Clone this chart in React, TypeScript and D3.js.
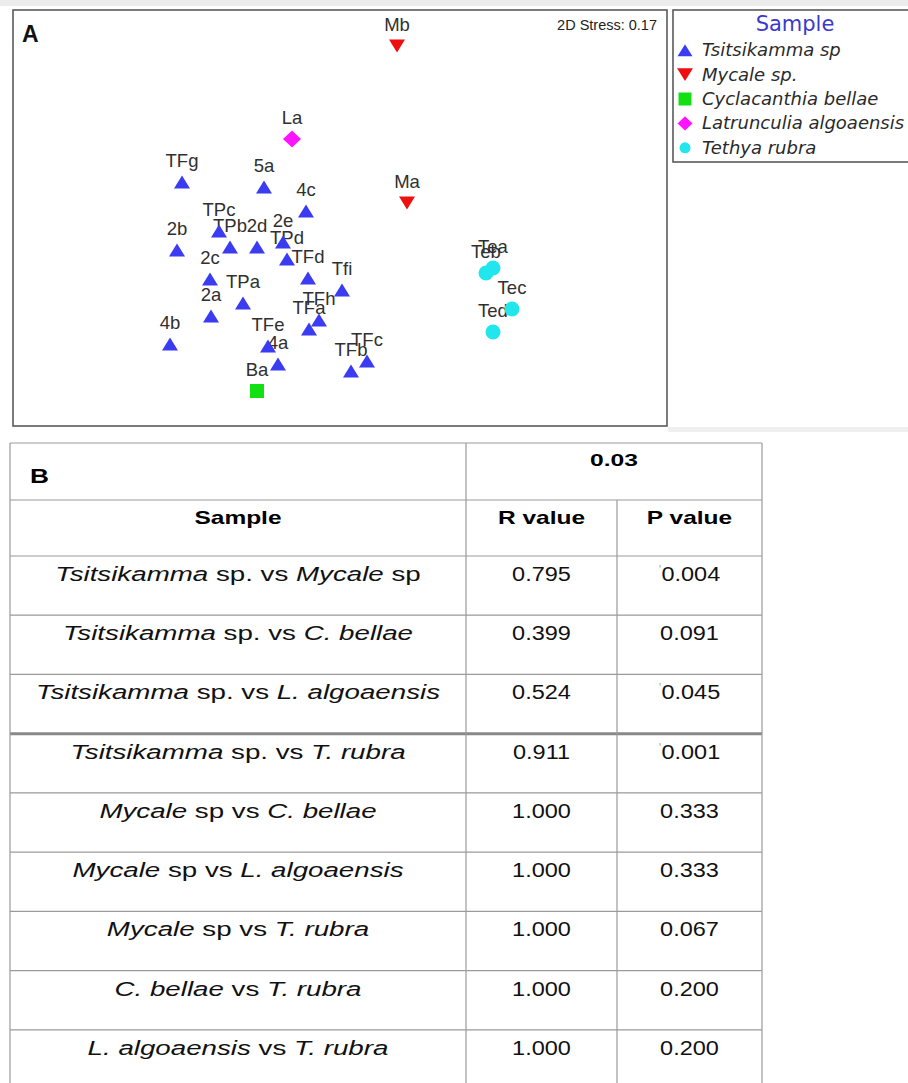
import React from "react";
import * as d3 from "d3";

const W = 908;
const H = 1083;

// ---------- Panel A data (NMDS ordination) ----------
const GROUPS = ["Tsitsikamma sp", "Mycale sp.", "Cyclacanthia bellae", "Latrunculia algoaensis", "Tethya rubra"];
const GROUP_COLORS = ["#3b3bf2", "#ee0f0f", "#12e012", "#ff14ff", "#22e6ee"];
const GROUP_SHAPES = ["triUp", "triDown", "square", "diamond", "circle"];

const sampleLabels = [
  "TFg", "5a", "4c", "TPc", "TPb", "2d", "2e", "TPd", "TFd", "Tfi", "2b", "2c", "TPa", "2a", "4b",
  "TFe", "4a", "TFh", "TFa", "TFc", "TFb",
  "Mb", "Ma", "Ba", "La", "Teb", "Tea", "Tec", "Ted",
];
const sampleGroup = [
  0, 0, 0, 0, 0, 0, 0, 0, 0, 0, 0, 0, 0, 0, 0,
  0, 0, 0, 0, 0, 0,
  1, 1, 2, 3, 4, 4, 4, 4,
];
const nmds1 = [
  -0.755, -0.345, -0.135, -0.57, -0.515, -0.38, -0.25, -0.23, -0.125, 0.045, -0.78, -0.615, -0.45, -0.61, -0.815,
  -0.325, -0.275, -0.07, -0.12, 0.17, 0.09,
  0.32, 0.37, -0.38, -0.205, 0.765, 0.8, 0.895, 0.8,
];
const nmds2 = [
  0.18, 0.155, 0.035, -0.065, -0.145, -0.145, -0.12, -0.205, -0.3, -0.36, -0.16, -0.305, -0.425, -0.49, -0.63,
  -0.64, -0.73, -0.51, -0.555, -0.715, -0.765,
  0.86, 0.075, -0.865, 0.395, -0.275, -0.25, -0.455, -0.57,
];
const STRESS = "2D Stress: 0.17";

// ---------- Panel B data (ANOSIM table) ----------
const TABLE_LEVEL = "0.03";
const comparisons: [string, boolean][][] = [
  [["Tsitsikamma", true], [" sp. vs ", false], ["Mycale", true], [" sp", false]],
  [["Tsitsikamma", true], [" sp. vs ", false], ["C. bellae", true]],
  [["Tsitsikamma", true], [" sp. vs ", false], ["L. algoaensis", true]],
  [["Tsitsikamma", true], [" sp. vs ", false], ["T. rubra", true]],
  [["Mycale", true], [" sp vs ", false], ["C. bellae", true]],
  [["Mycale", true], [" sp vs ", false], ["L. algoaensis", true]],
  [["Mycale", true], [" sp vs ", false], ["T. rubra", true]],
  [["C. bellae", true], [" vs ", false], ["T. rubra", true]],
  [["L. algoaensis", true], [" vs ", false], ["T. rubra", true]],
];
const rValues = ["0.795", "0.399", "0.524", "0.911", "1.000", "1.000", "1.000", "1.000", "1.000"];
const pValues = ["0.004", "0.091", "0.045", "0.001", "0.333", "0.333", "0.067", "0.200", "0.200"];
const pSignificant = [true, false, true, true, false, false, false, false, false];

// ---------- custom symbols (bbox-centred) ----------
const symTriUp = {
  draw(ctx: any, size: number) {
    const w = Math.sqrt(size);
    const h = w * 0.8;
    ctx.moveTo(0, -h / 2);
    ctx.lineTo(w / 2, h / 2);
    ctx.lineTo(-w / 2, h / 2);
    ctx.closePath();
  },
};
const symTriDown = {
  draw(ctx: any, size: number) {
    const w = Math.sqrt(size);
    const h = w * 0.8;
    ctx.moveTo(-w / 2, -h / 2);
    ctx.lineTo(w / 2, -h / 2);
    ctx.lineTo(0, h / 2);
    ctx.closePath();
  },
};
const symSquare = {
  draw(ctx: any, size: number) {
    const w = Math.sqrt(size);
    ctx.rect(-w / 2, -w / 2, w, w);
  },
};
const symDiamond = {
  draw(ctx: any, size: number) {
    const w = Math.sqrt(size);
    const h = w * 0.95;
    ctx.moveTo(0, -h / 2);
    ctx.lineTo(w / 2, 0);
    ctx.lineTo(0, h / 2);
    ctx.lineTo(-w / 2, 0);
    ctx.closePath();
  },
};
const symCircle = {
  draw(ctx: any, size: number) {
    const r = Math.sqrt(size) / 2;
    ctx.moveTo(r, 0);
    ctx.arc(0, 0, r, 0, Math.PI * 2);
  },
};
const SHAPES: Record<string, any> = {
  triUp: symTriUp,
  triDown: symTriDown,
  square: symSquare,
  diamond: symDiamond,
  circle: symCircle,
};
const PLOT_SIZE: Record<string, number> = { triUp: 16, triDown: 16, square: 14, diamond: 18, circle: 15 };
const LEGEND_SIZE: Record<string, number> = { triUp: 15, triDown: 16, square: 13, diamond: 15, circle: 11 };

const symbolPath = (shape: string, px: number) =>
  d3.symbol().type(SHAPES[shape]).size(px * px)() as string;

export default function App() {
  // plot frame
  const plot = { left: 13, top: 10, right: 667, bottom: 426 };
  const x = d3.scaleLinear().domain([-1.6, 1.67]).range([plot.left, plot.right]);
  const y = d3.scaleLinear().domain([-1.04, 1.04]).range([plot.bottom, plot.top]);

  const pts = sampleLabels.map((lab, i) => ({
    lab,
    g: sampleGroup[i],
    px: x(nmds1[i]),
    py: y(nmds2[i]),
  }));

  // legend
  const legend = { left: 673, top: 10, right: 916, bottom: 162 };
  const legendY = d3.scaleBand<number>().domain(d3.range(GROUPS.length)).range([38, 160]);

  // table
  const tab = { left: 10, c1: 466, c2: 617, right: 762, top: 443, h1: 500, h2: 556, bottom: 1089 };
  const rowScale = d3.scaleBand<number>().domain(d3.range(comparisons.length)).range([tab.h2, tab.bottom]);
  const c0 = (tab.left + tab.c1) / 2;
  const cR = (tab.c1 + tab.c2) / 2;
  const cP = (tab.c2 + tab.right) / 2;
  const font = "'Liberation Sans', Arial, sans-serif";
  const lineCol = "#9a9a9a";

  const stretched = (cx: number, cy: number, sx: number, child: React.ReactNode, key?: any) => (
    <g key={key} transform={`translate(${cx},${cy}) scale(${sx},1)`}>{child}</g>
  );

  return (
    <svg
      width={W}
      height={H}
      style={{ position: "absolute", left: 0, top: 0, display: "block", background: "#fff" }}
      fontFamily={font}
    >
      <rect x={0} y={0} width={W} height={H} fill="#fff" />
      <rect x={0} y={0} width={W} height={6} fill="#ececec" />
      <rect x={668} y={427} width={W - 668} height={5} fill="#efefef" />

      {/* ---------- Panel A ---------- */}
      <rect
        x={plot.left}
        y={plot.top}
        width={plot.right - plot.left}
        height={plot.bottom - plot.top}
        fill="#fff"
        stroke="#5a5a5a"
        strokeWidth={1.6}
      />
      <text x={22} y={42} fontSize={23} fontWeight="bold" fill="#111">A</text>
      <text x={657} y={30} fontSize={14.5} textAnchor="end" fill="#222">{STRESS}</text>

      <g fontSize={18.5} fill="#303030" textAnchor="middle">
        {pts.map((p, i) => (
          <text key={"l" + i} x={p.px} y={p.py - 15}>{p.lab}</text>
        ))}
      </g>
      <g>
        {pts.map((p, i) => {
          const shape = GROUP_SHAPES[p.g];
          return (
            <path
              key={"m" + i}
              d={symbolPath(shape, PLOT_SIZE[shape])}
              transform={`translate(${p.px},${p.py})`}
              fill={GROUP_COLORS[p.g]}
            />
          );
        })}
      </g>

      {/* legend */}
      <rect
        x={legend.left}
        y={legend.top}
        width={legend.right - legend.left}
        height={legend.bottom - legend.top}
        fill="#fff"
        stroke="#5a5a5a"
        strokeWidth={1.6}
      />
      <text x={795} y={31} fontSize={21} textAnchor="middle" fill="#3a3acc" fontFamily="'DejaVu Sans', sans-serif">
        Sample
      </text>
      {GROUPS.map((g, i) => {
        const cy = (legendY(i) as number) + legendY.bandwidth() / 2;
        const shape = GROUP_SHAPES[i];
        return (
          <g key={"lg" + i}>
            <path
              d={symbolPath(shape, LEGEND_SIZE[shape])}
              transform={`translate(685,${cy})`}
              fill={GROUP_COLORS[i]}
            />
            <text
              x={702}
              y={cy + 6}
              fontSize={18}
              fontStyle="italic"
              fill="#2a2a2a"
              fontFamily="'DejaVu Sans', sans-serif"
            >
              {g}
            </text>
          </g>
        );
      })}

      {/* ---------- Panel B ---------- */}
      <g stroke={lineCol} strokeWidth={1.2} fill="none">
        <line x1={tab.left} x2={tab.right} y1={tab.top} y2={tab.top} />
        <line x1={tab.left} x2={tab.right} y1={tab.h1} y2={tab.h1} />
        <line x1={tab.left} x2={tab.right} y1={tab.h2} y2={tab.h2} />
        {comparisons.map((_, i) =>
          i === 0 ? null : (
            <line
              key={"rl" + i}
              x1={tab.left}
              x2={tab.right}
              y1={rowScale(i) as number}
              y2={rowScale(i) as number}
              strokeWidth={i === 3 ? 3 : 1.2}
              stroke={i === 3 ? "#888" : lineCol}
            />
          )
        )}
        <line x1={tab.left} x2={tab.left} y1={tab.top} y2={tab.bottom} />
        <line x1={tab.c1} x2={tab.c1} y1={tab.top} y2={tab.bottom} />
        <line x1={tab.c2} x2={tab.c2} y1={tab.h1} y2={tab.bottom} />
        <line x1={tab.right} x2={tab.right} y1={tab.top} y2={tab.bottom} />
      </g>

      {stretched(30, 483, 1.25, <text fontSize={21} fontWeight="bold" fill="#000">B</text>)}
      {stretched(
        (tab.c1 + tab.right) / 2,
        466,
        1.45,
        <text fontSize={17} fontWeight="bold" textAnchor="middle" fill="#000">{TABLE_LEVEL}</text>
      )}
      {stretched(c0, 524, 1.4, <text fontSize={17.5} fontWeight="bold" textAnchor="middle" fill="#000">Sample</text>)}
      {stretched(cR, 524, 1.4, <text fontSize={17.5} fontWeight="bold" textAnchor="middle" fill="#000">R value</text>)}
      {stretched(cP, 524, 1.4, <text fontSize={17.5} fontWeight="bold" textAnchor="middle" fill="#000">P value</text>)}

      {comparisons.map((segs, i) => {
        const base = (rowScale(i) as number) + 25;
        return (
          <g key={"row" + i}>
            {stretched(
              c0,
              base,
              1.32,
              <text fontSize={21} textAnchor="middle" fill="#111">
                {segs.map(([t, it], k) => (
                  <tspan key={k} fontStyle={it ? "italic" : "normal"}>{t}</tspan>
                ))}
              </text>
            )}
            {stretched(cR, base, 1.12, <text fontSize={21} textAnchor="middle" fill="#111">{rValues[i]}</text>)}
            {stretched(
              cP,
              base,
              1.12,
              <text fontSize={21} textAnchor="middle" fill="#111">
                {pSignificant[i] ? (
                  <tspan fill="#b0b0b0" fontSize={12} dy={-7}>'</tspan>
                ) : null}
                <tspan dy={pSignificant[i] ? 7 : 0}>{pValues[i]}</tspan>
              </text>
            )}
          </g>
        );
      })}
    </svg>
  );
}
